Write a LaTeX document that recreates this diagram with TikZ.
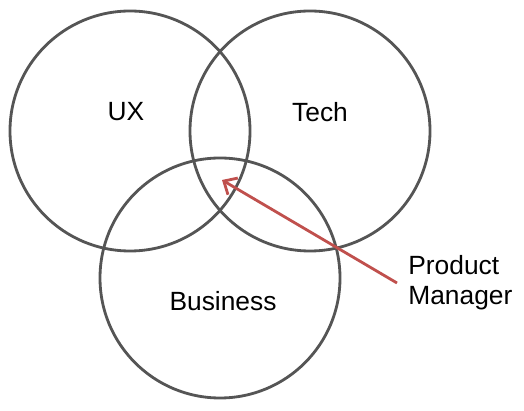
\documentclass[tikz,border=0pt]{standalone}
\usepackage{fontspec}
\setmainfont{Liberation Sans}
\usetikzlibrary{arrows.meta}

\definecolor{ringgray}{RGB}{85,85,85}
\definecolor{pmred}{RGB}{192,80,77}

\tikzset{
    ring/.style={draw=ringgray, line width=1.6pt, circle, minimum size=240*0.02cm, inner sep=0pt},
    label/.style={font=\fontsize{15}{17}\selectfont, inner sep=0pt},
    pointer/.style={draw=pmred, line width=1.6pt, -{Straight Barb[length=6pt, width=11pt]}}
}

\begin{document}
\begin{tikzpicture}[x=0.02cm, y=-0.02cm]

    % Keep the frame of the reference
    \useasboundingbox (0,0) rectangle (524,411);

    % The three circles
    \node[ring] (ux) at (130,131) {};
    \node[ring] (tech) at (310,131) {};
    \node[ring] (biz) at (220,278) {};

    % Circle labels
    \node[label] (uxl) at (126,112) {UX};
    \node[label] (techl) at (320,112) {Tech};
    \node[label] (bizl) at (223,301) {Business};

    % The overlap and its pointer
    \coordinate (core) at (222,180);
    \node[label, anchor=west, align=left] (pm) at (408,283) {Product\\Manager};
    \coordinate (pmtail) at (397,283);
    \draw[pointer] (pmtail) -- (core);

\end{tikzpicture}
\end{document}
